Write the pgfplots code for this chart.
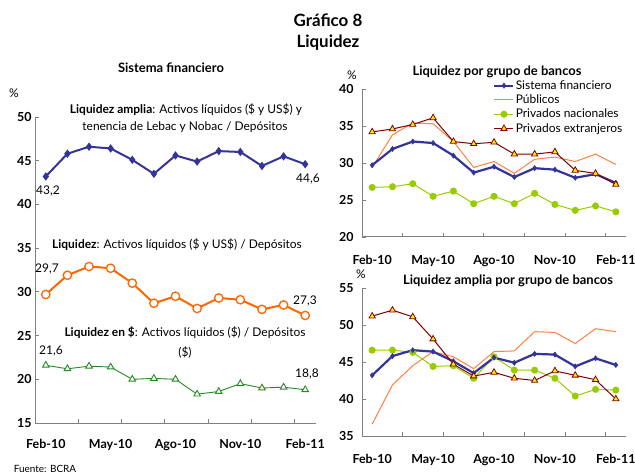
\documentclass[border=0pt]{standalone}
\usepackage{fontspec}
\setmainfont{Lato}
\usepackage{pgfplots}
\usepackage{pgfplotstable}
\pgfplotsset{compat=1.18}
\definecolor{navy}{RGB}{51,51,153}
\definecolor{orng}{RGB}{255,102,0}
\definecolor{grn}{RGB}{34,139,34}
\definecolor{pub}{RGB}{255,128,64}
\definecolor{pnac}{RGB}{153,204,0}
\definecolor{pext}{RGB}{128,0,0}
\definecolor{axgray}{RGB}{128,128,128}

\pgfplotstableread{
x amp liq pes
0 43.2 29.7 21.6
1 45.8 31.9 21.2
2 46.6 32.9 21.5
3 46.4 32.7 21.4
4 45.1 31.0 20.0
5 43.5 28.7 20.1
6 45.6 29.5 20.0
7 44.9 28.1 18.3
8 46.1 29.3 18.6
9 46.0 29.1 19.5
10 44.4 28.0 19.0
11 45.5 28.5 19.1
12 44.6 27.3 18.8
}\sisfin

\pgfplotstableread{
x sf pub pn pe
0 29.7 29.4 26.7 34.2
1 31.9 33.8 26.8 34.6
2 32.9 35.4 27.2 35.2
3 32.7 35.3 25.5 36.1
4 31.0 32.9 26.2 32.9
5 28.7 29.4 24.5 32.6
6 29.5 30.2 25.5 32.8
7 28.1 28.6 24.5 31.2
8 29.3 30.5 25.9 31.2
9 29.1 30.8 24.4 31.5
10 28.0 30.2 23.6 29.0
11 28.5 31.2 24.2 28.6
12 27.3 29.8 23.4 27.1
}\grupos

\pgfplotstableread{
x sf pub pn pe
0 43.2 36.6 46.6 51.2
1 45.8 41.9 46.6 52.0
2 46.6 44.5 46.3 51.1
3 46.4 46.4 44.4 48.1
4 45.1 45.7 44.5 44.7
5 43.5 44.1 42.8 43.1
6 45.6 46.4 45.7 43.6
7 44.9 46.5 43.9 42.8
8 46.1 49.1 43.9 42.5
9 46.0 49.0 42.8 43.8
10 44.4 47.5 40.4 43.2
11 45.5 49.5 41.3 42.6
12 44.6 49.1 41.2 40.0
}\amplia

\pgfplotsset{
  mystyle/.style={
    scale only axis, xmin=-0.5, xmax=12.5,
    axis x line*=bottom, axis y line*=left,
    axis line style={axgray, line width=1bp, -},
    xtick={0,3,6,9,12},
    xticklabels={Feb-10,May-10,Ago-10,Nov-10,Feb-11},
    major x tick style={draw=none},
    minor xtick={1.5,3.5,5.5,7.5,9.5,11.5},
    minor tick length=4bp, major tick length=4bp,
    tick align=inside,
    tick style={axgray, line width=0.8bp},
    ticklabel style={font=\bfseries\fontsize{12.5}{12.5}\selectfont},
    /pgf/number format/assume math mode=true,
    clip=false,
  },
  sfline/.style={navy, line width=2.2bp, mark=diamond*, mark size=2.6bp, mark options={solid, line width=0.5bp}},
  publine/.style={pub, line width=1bp, no markers},
  pnline/.style={pnac, line width=1bp, mark=*, mark size=3bp, mark options={solid, fill=pnac, draw=pnac}},
  peline/.style={pext, line width=1bp, mark=triangle*, mark size=3.6bp, mark options={solid, fill=yellow, draw=pext, line width=0.8bp}},
}

\begin{document}
\begin{tikzpicture}
\path (0,0) rectangle (635bp,474bp);

% Left panel
\begin{axis}[mystyle,
  at={(35bp,51bp)}, anchor=south west, width=281bp, height=306bp,
  ymin=15, ymax=50, ytick={15,20,...,50},
  xticklabel style={yshift=-13bp},
]
\addplot[navy, line width=2bp, mark=diamond*, mark size=2.6bp, mark options={solid}] table[x=x,y=amp] {\sisfin};
\addplot[orng, line width=2bp, mark=*, mark size=4.2bp, mark options={solid, fill=white, draw=orng, line width=1.3bp}] table[x=x,y=liq] {\sisfin};
\addplot[grn, line width=0.9bp, mark=triangle*, mark size=3.8bp, mark options={solid, fill=white, draw=grn, line width=0.9bp}] table[x=x,y=pes] {\sisfin};
\end{axis}

% Top right panel
\begin{axis}[mystyle,
  at={(362bp,237bp)}, anchor=south west, width=264bp, height=148bp,
  ymin=20, ymax=40, ytick={20,25,...,40},
  xticklabel style={yshift=-15bp},
  yticklabel style={xshift=-5bp},
  legend style={draw=none, fill=none, at={(0.495,1.07)}, anchor=north west,
    font=\fontsize{12}{12}\selectfont, row sep=1.6bp, inner sep=0.5bp,
    nodes={inner sep=1.2bp}},
  legend image code/.code={\draw[#1] (0bp,0bp) -- (19bp,0bp); \draw[#1, only marks] plot coordinates {(9.5bp,0bp)};},
  legend cell align=left,
]
\addplot[publine, forget plot] table[x=x,y=pub] {\grupos};
\addplot[pnline, forget plot] table[x=x,y=pn] {\grupos};
\addplot[sfline] table[x=x,y=sf] {\grupos};
\addlegendentry{Sistema financiero}
\addlegendimage{publine}
\addlegendentry{Públicos}
\addlegendimage{pnline}
\addlegendentry{Privados nacionales}
\addplot[peline] table[x=x,y=pe] {\grupos};
\addlegendentry{Privados extranjeros}
\end{axis}

% Bottom right panel
\begin{axis}[mystyle,
  at={(362bp,38bp)}, anchor=south west, width=264bp, height=148bp,
  ymin=35, ymax=55, ytick={35,40,...,55},
  xticklabel style={yshift=-15bp},
  yticklabel style={xshift=-5bp},
]
\addplot[publine] table[x=x,y=pub] {\amplia};
\addplot[pnline] table[x=x,y=pn] {\amplia};
\addplot[sfline] table[x=x,y=sf] {\amplia};
\addplot[peline] table[x=x,y=pe] {\amplia};
\end{axis}

% Texts
\node[font=\bfseries\fontsize{17}{17}\selectfont] at (328bp,454bp) {Gráfico 8};
\node[font=\bfseries\fontsize{17}{17}\selectfont] at (328bp,431bp) {Liquidez};
\node[font=\bfseries\fontsize{13}{13}\selectfont] at (171bp,406bp) {Sistema financiero};
\node[font=\fontsize{12}{12}\selectfont] at (14bp,381bp) {\%};
\begin{scope}[every node/.style={font=\fontsize{12}{12}\selectfont, inner sep=0pt}]
\node at (186bp,364bp) {\textbf{Liquidez amplia}: Activos líquidos (\$ y US\$) y};
\node at (185bp,347bp) {tenencia de Lebac y Nobac / Depósitos};
\node at (177bp,229bp) {\textbf{Liquidez}: Activos líquidos (\$ y US\$) / Depósitos};
\node at (185bp,141bp) {\textbf{Liquidez en \$}: Activos líquidos (\$) / Depósitos};
\node at (185bp,122bp) {(\$)};
\node at (48bp,283bp) {43,2};
\node at (308bp,295bp) {44,6};
\node at (47bp,205bp) {29,7};
\node at (305bp,173bp) {27,3};
\node at (51bp,123bp) {21,6};
\node at (307bp,100bp) {18,8};
\end{scope}
\node[font=\fontsize{10}{10}\selectfont, inner sep=0pt] at (45bp,5bp) {Fuente: BCRA};
\node[font=\fontsize{12}{12}\selectfont] at (352bp,399bp) {\%};
\node[font=\bfseries\fontsize{13}{13}\selectfont, inner sep=1pt] at (497bp,402bp) {Liquidez por grupo de bancos};
\node[font=\fontsize{12}{12}\selectfont] at (361bp,200bp) {\%};
\node[font=\bfseries\fontsize{13}{13}\selectfont] at (508bp,193bp) {Liquidez amplia por grupo de bancos};

\pgfresetboundingbox
\path[use as bounding box] (0,0) rectangle (635bp,474bp);
\end{tikzpicture}
\end{document}
